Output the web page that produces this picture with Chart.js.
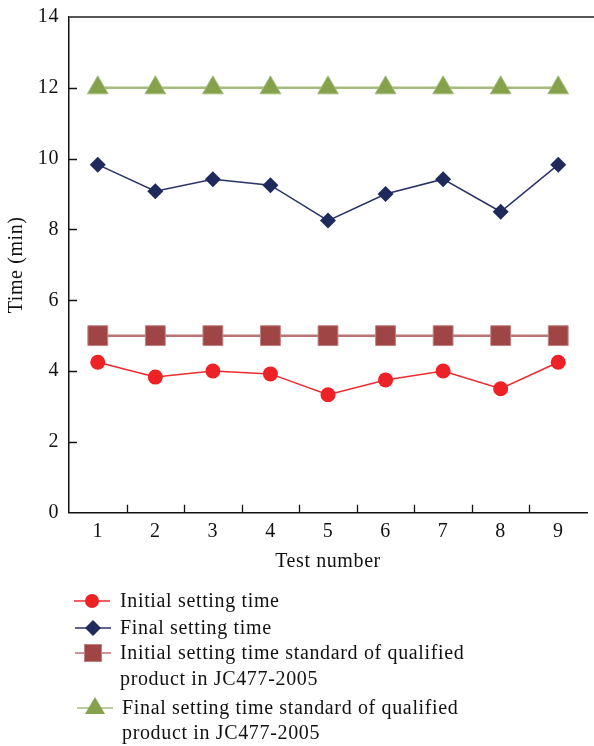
<!DOCTYPE html>
<html>
<head>
<meta charset="utf-8">
<script src="https://cdn.jsdelivr.net/npm/chart.js@4.4.1/dist/chart.umd.min.js"></script>
<style>
  html, body { margin: 0; padding: 0; background: #fff; overflow: hidden; }
  #wrap { position: relative; width: 594px; height: 746px; }
  #chartBox { position: absolute; left: 0; top: 0; width: 594px; height: 580px; }
  #legend { position: absolute; left: 0; top: 0; width: 594px; height: 746px; pointer-events: none;
    font-family: "Liberation Serif", "DejaVu Serif", serif; font-size: 20px; letter-spacing: 0.65px; color: #111; }
  .lrow { position: absolute; white-space: nowrap; line-height: 22px; }
  .licon { position: absolute; }
</style>
</head>
<body>
<div id="wrap">
  <div id="chartBox"><canvas id="c" width="594" height="580"></canvas></div>
  <div id="legend"></div>
</div>
<script>
// ---- data ----
const testNumbers = ["1", "2", "3", "4", "5", "6", "7", "8", "9"];
const initialSetting = [4.25, 3.83, 4.0, 3.92, 3.33, 3.75, 4.0, 3.5, 4.25];
const finalSetting = [9.83, 9.08, 9.42, 9.25, 8.25, 9.0, 9.42, 8.5, 9.83];
const initialStandard = [5, 5, 5, 5, 5, 5, 5, 5, 5];
const finalStandard = [12, 12, 12, 12, 12, 12, 12, 12, 12];
const yTicks = [0, 2, 4, 6, 8, 10, 12, 14];
const seriesNames = [
  "Initial setting time",
  "Final setting time",
  ["Initial setting time standard of qualified", "product in JC477-2005"],
  ["Final setting time standard of qualified", "product in JC477-2005"]
];

const FONT = '"Liberation Serif", "DejaVu Serif", serif';
const TXT = '#111111';

function spacing(chart) { try { chart.ctx.letterSpacing = '0.6px'; } catch (e) {} }

const frame = {
  id: 'frame',
  beforeLayout(chart) { spacing(chart); },
  beforeDraw(chart) { spacing(chart); },
  afterDraw(chart) {
    const ctx = chart.ctx, a = chart.chartArea;
    const xs = chart.scales.x, ys = chart.scales.y;
    ctx.save();
    ctx.strokeStyle = '#555555';
    ctx.lineWidth = 2;
    ctx.beginPath();
    ctx.moveTo(a.left, a.top);
    ctx.lineTo(chart.width, a.top);
    ctx.stroke();
    ctx.strokeStyle = '#111';
    ctx.lineWidth = 1.3;
    ctx.beginPath();
    for (let i = 0; i < testNumbers.length - 1; i++) {
      const px = Math.round((xs.getPixelForValue(i) + xs.getPixelForValue(i + 1)) / 2) + 0.5;
      ctx.moveTo(px, a.bottom);
      ctx.lineTo(px, a.bottom - 8);
    }
    yTicks.forEach(v => {
      if (v === yTicks[0] || v === yTicks[yTicks.length - 1]) return;
      const py = Math.round(ys.getPixelForValue(v)) + 0.5;
      ctx.moveTo(a.left, py);
      ctx.lineTo(a.left + 8, py);
    });
    ctx.stroke();
    ctx.restore();
  }
};

const datasets = [
  { label: seriesNames[0], data: initialSetting, borderColor: '#ee2a2e', backgroundColor: '#ee2226',
    borderWidth: 1.5, pointStyle: 'circle', pointRadius: 7.5, pointBorderWidth: 0, pointBackgroundColor: '#ee2226' },
  { label: seriesNames[1], data: finalSetting, borderColor: '#2a3268', backgroundColor: '#1f2a5c',
    borderWidth: 1.5, pointStyle: 'rectRot', pointRadius: 8, pointBorderWidth: 0, pointBackgroundColor: '#1f2a5c' },
  { label: seriesNames[2], data: initialStandard, borderColor: '#b97575', backgroundColor: '#a04545',
    borderWidth: 2.5, pointStyle: 'rect', pointRadius: 14, pointBorderWidth: 1, pointBorderColor: '#c08080', pointBackgroundColor: '#a04545' },
  { label: seriesNames[3], data: finalStandard, borderColor: '#a5bc7e', backgroundColor: '#86a14b',
    borderWidth: 2.5, pointStyle: 'triangle', pointRadius: 12, pointBorderWidth: 1, pointBorderColor: '#a5bc7e', pointBackgroundColor: '#86a14b' }
];

const chart = new Chart(document.getElementById('c'), {
  type: 'line',
  data: { labels: testNumbers, datasets },
  options: {
    responsive: false,
    animation: false,
    devicePixelRatio: 1,
    layout: { autoPadding: false, padding: { top: 17, right: 7, left: 0, bottom: 0 } },
    plugins: { legend: { display: false }, tooltip: { enabled: false } },
    elements: { line: { tension: 0 } },
    scales: {
      x: {
        type: 'category',
        offset: true,
        grid: { display: true, drawOnChartArea: false, drawTicks: false, offset: true },
        border: { display: true, color: '#111', width: 1.5 },
        ticks: { color: TXT, font: { family: FONT, size: 20 }, padding: 7, maxRotation: 0 },
        title: { display: true, text: 'Test number', color: TXT, font: { family: FONT, size: 20 }, padding: { top: 4, bottom: 6 } },
        afterFit(s) { s.height = 67.3; s.paddingLeft = 0; s.paddingRight = 0; }
      },
      y: {
        min: 0, max: 14,
        afterBuildTicks(s) { s.ticks = yTicks.map(v => ({ value: v })); },
        grid: { display: true, drawOnChartArea: false, drawTicks: false },
        border: { display: true, color: '#111', width: 1.5 },
        ticks: { color: TXT, font: { family: FONT, size: 20 }, padding: 10 },
        title: { display: true, text: 'Time (min)', color: TXT, font: { family: FONT, size: 20 }, padding: { top: 5, bottom: 0 } },
        afterFit(s) { s.width = 69; s.paddingTop = 0; s.paddingBottom = 0; }
      }
    }
  },
  plugins: [frame]
});

// ---- HTML legend built from datasets ----
const legend = document.getElementById('legend');
const rowY = [[600.7], [628], [653, 679], [708, 733]];
const iconX = [74, 75, 75, 77];
const textX = [120, 120, 120, 122];
function icon(ds) {
  const w = 36, h = 26, cx = 18, cy = 13;
  let shape = '';
  const f = ds.pointBackgroundColor;
  if (ds.pointStyle === 'circle') shape = `<circle cx="${cx}" cy="${cy}" r="7" fill="${f}"/>`;
  else if (ds.pointStyle === 'rectRot') shape = `<polygon points="${cx},${cy-8} ${cx+8},${cy} ${cx},${cy+8} ${cx-8},${cy}" fill="${f}"/>`;
  else if (ds.pointStyle === 'rect') shape = `<rect x="${cx-8.5}" y="${cy-8.5}" width="17" height="17" fill="${f}" stroke="${ds.pointBorderColor}" stroke-width="1"/>`;
  else shape = `<polygon points="${cx},${cy-11} ${cx+10},${cy+6} ${cx-10},${cy+6}" fill="${f}"/>`;
  return `<svg width="${w}" height="${h}" xmlns="http://www.w3.org/2000/svg"><line x1="0" y1="${cy}" x2="${w}" y2="${cy}" stroke="${ds.borderColor}" stroke-width="1.5"/>${shape}</svg>`;
}
chart.data.datasets.forEach((ds, i) => {
  const ic = document.createElement('div');
  ic.className = 'licon';
  ic.style.left = iconX[i] + 'px';
  ic.style.top = (rowY[i][0] - 13) + 'px';
  ic.innerHTML = icon(ds);
  legend.appendChild(ic);
  const lines = Array.isArray(ds.label) ? ds.label : [ds.label];
  lines.forEach((t, k) => {
    const d = document.createElement('div');
    d.className = 'lrow';
    d.style.left = textX[i] + 'px';
    d.style.top = (rowY[i][k] - 12) + 'px';
    d.textContent = t;
    legend.appendChild(d);
  });
});
</script>
</body>
</html>
